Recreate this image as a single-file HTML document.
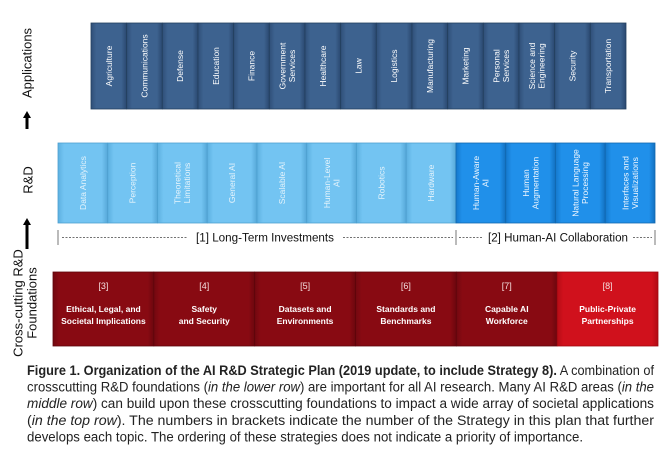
<!DOCTYPE html>
<html><head><meta charset="utf-8"><style>
html,body{margin:0;padding:0;background:#fff;width:668px;height:455px;overflow:hidden}
svg{display:block;font-family:"Liberation Sans",sans-serif}
</style></head><body>
<svg id="fig" width="668" height="455" viewBox="0 0 668 455">
<defs>
<linearGradient id="gApp" x1="0" y1="0" x2="1" y2="0"><stop offset="0" stop-color="#2f4f78"/><stop offset="0.15" stop-color="#3d628f"/><stop offset="0.85" stop-color="#3d628f"/><stop offset="1" stop-color="#2a4870"/></linearGradient>
<linearGradient id="gLight" x1="0" y1="0" x2="1" y2="0"><stop offset="0" stop-color="#5cb0e0"/><stop offset="0.12" stop-color="#73c4f2"/><stop offset="0.88" stop-color="#73c4f2"/><stop offset="1" stop-color="#56a8d8"/></linearGradient>
<linearGradient id="gDark" x1="0" y1="0" x2="1" y2="0"><stop offset="0" stop-color="#1478cc"/><stop offset="0.12" stop-color="#2090ea"/><stop offset="0.88" stop-color="#2090ea"/><stop offset="1" stop-color="#1270c0"/></linearGradient>
<linearGradient id="gRed" x1="0" y1="0" x2="1" y2="0"><stop offset="0" stop-color="#720810"/><stop offset="0.06" stop-color="#880a12"/><stop offset="0.94" stop-color="#880a12"/><stop offset="1" stop-color="#6c070e"/></linearGradient>
<linearGradient id="gRed2" x1="0" y1="0" x2="1" y2="0"><stop offset="0" stop-color="#b50c16"/><stop offset="0.06" stop-color="#d0111c"/><stop offset="0.94" stop-color="#d0111c"/><stop offset="1" stop-color="#b00a14"/></linearGradient>
</defs>
<g id="labels"></g>
<g id="apps"></g>
<g id="rd"></g>
<g id="found"></g>
<g id="caption"></g>
</svg>
<script>
const NS="http://www.w3.org/2000/svg";
const appNames=[["Agriculture"],["Communications"],["Defense"],["Education"],["Finance"],["Government","Services"],["Healthcare"],["Law"],["Logistics"],["Manufacturing"],["Marketing"],["Personal","Services"],["Science and","Engineering"],["Security"],["Transportation"]];
const rdNames=[["Data Analytics"],["Perception"],["Theoretical","Limitations"],["General AI"],["Scalable AI"],["Human-Level","AI"],["Robotics"],["Hardware"],["Human-Aware","AI"],["Human","Augmentation"],["Natural Language","Processing"],["Interfaces and","Visualizations"]];
const rdGroup=[1,1,1,1,1,1,1,1,2,2,2,2];
const foundNums=["[3]","[4]","[5]","[6]","[7]","[8]"];
const foundNames=[["Ethical, Legal, and","Societal Implications"],["Safety","and Security"],["Datasets and","Environments"],["Standards and","Benchmarks"],["Capable AI","Workforce"],["Public-Private","Partnerships"]];
function el(tag,attrs,parent){const e=document.createElementNS(NS,tag);for(const k in attrs)e.setAttribute(k,attrs[k]);parent.appendChild(e);return e;}
function vtext(parent,lines,cx,cy,size,fill,weight){
  const t=el("text",{x:cx,y:cy,"text-anchor":"middle","font-size":size,fill:fill,"font-weight":weight||"normal",transform:`rotate(-90 ${cx} ${cy})`},parent);
  const lh=size*1.1;const off=-(lines.length-1)*lh/2+size*0.35;
  lines.forEach((l,i)=>{const s=el("tspan",{x:cx,y:cy+off+i*lh},t);s.textContent=l;});
  return t;
}
const L=document.getElementById("labels");
let t=vtext(L,["Applications"],27,63,13,"#111");


t=vtext(L,["R&D"],28,180,13,"#111");


t=vtext(L,["Cross-cutting R&D","Foundations"],25,303,13,"#111");


[[27,129,111],[27,249,218]].forEach((a,i)=>{
  const g=el("g",{},L);
  
  
  el("line",{x1:a[0],y1:a[1],x2:a[0],y2:a[2]+6,stroke:"#000","stroke-width":3},g);
  el("polygon",{points:`${a[0]-4},${a[2]+7} ${a[0]+4},${a[2]+7} ${a[0]},${a[2]}`,fill:"#000"},g);
});
const A=document.getElementById("apps");
const ax0=91,ax1=626,ay0=23,ay1=109,aw=(ax1-ax0)/appNames.length;
appNames.forEach((n,i)=>{
  const g=el("g",{},A);
  
  
  const x=ax0+i*aw;
  el("rect",{x:x,y:ay0,width:aw,height:ay1-ay0,fill:"url(#gApp)",stroke:"#24405f","stroke-width":0.8},g);
  vtext(g,n,x+aw/2,(ay0+ay1)/2,8.5,"#fff");
});
const R=document.getElementById("rd");
const rx0=58,rx1=655,ry0=143,ry1=223,rw=(rx1-rx0)/rdNames.length;
rdNames.forEach((n,i)=>{
  const g=el("g",{},R);
  
  
  const x=rx0+i*rw;const dark=rdGroup[i]===2;
  el("rect",{x:x,y:ry0,width:rw,height:ry1-ry0,fill:dark?"url(#gDark)":"url(#gLight)",stroke:dark?"#1168b0":"#4ea0d0","stroke-width":0.8},g);
  vtext(g,n,x+rw/2,(ry0+ry1)/2,8.5,dark?"#f2f8ff":"#e6f4fc");
});
const split=rx0+8*rw;
const br=el("g",{},R);


[rx0,split,rx1].forEach(x=>el("line",{x1:x,y1:230,x2:x,y2:245,stroke:"#555","stroke-width":0.8},br));
[[rx0+4,187],[343,split-3],[split+3,483],[633,rx1-3]].forEach(s=>el("line",{x1:s[0],y1:237.5,x2:s[1],y2:237.5,stroke:"#444","stroke-width":0.8,"stroke-dasharray":"2,1.5"},br));
let gt=el("text",{x:265,y:241.5,"text-anchor":"middle","font-size":11.5,fill:"#111",textLength:138,lengthAdjust:"spacingAndGlyphs"},br);gt.textContent="[1] Long-Term Investments";


gt=el("text",{x:558,y:241.5,"text-anchor":"middle","font-size":11.5,fill:"#111",textLength:140,lengthAdjust:"spacingAndGlyphs"},br);gt.textContent="[2] Human-AI Collaboration";


const F=document.getElementById("found");
const fx0=53,fx1=658,fy0=272,fy1=346,fw=(fx1-fx0)/foundNames.length;
foundNames.forEach((n,i)=>{
  const g=el("g",{},F);
  
  
  const x=fx0+i*fw;const last=i===foundNames.length-1;
  el("rect",{x:x,y:fy0,width:fw,height:fy1-fy0,fill:last?"url(#gRed2)":"url(#gRed)",stroke:last?"#a00810":"#5e060b","stroke-width":0.8},g);
  const c=x+fw/2;
  const nt=el("text",{x:c,y:289,"text-anchor":"middle","font-size":9,fill:"#f4dede"},g);nt.textContent=foundNums[i];
  n.forEach((l,j)=>{const tt=el("text",{x:c,y:312+j*12,"text-anchor":"middle","font-size":8.5,"font-weight":"bold",fill:"#fff"},g);tt.textContent=l;});
});
const C=document.getElementById("caption");
const capLines=[
 [["Figure 1. Organization of the AI R&D Strategic Plan (2019 update, to include Strategy 8).","b"],[" A combination of",""]],
 [["crosscutting R&D foundations (",""],["in the lower row","i"],[") are important for all AI research. Many AI R&D areas (",""],["in the","i"]],
 [["middle row","i"],[") can build upon these crosscutting foundations to impact a wide array of societal applications",""]],
 [["(",""],["in the top row","i"],["). The numbers in brackets indicate the number of the Strategy in this plan that further",""]],
 [["develops each topic. The ordering of these strategies does not indicate a priority of importance.",""]]
];
const capW=[627,627,627,627,556];
capLines.forEach((ln,i)=>{
  const t=el("text",{x:27,y:375+i*16.6,"font-size":13.5,fill:"#222",textLength:capW[i],lengthAdjust:"spacingAndGlyphs"},C);
  ln.forEach(p=>{const s=el("tspan",{},t);if(p[1]==="b")s.setAttribute("font-weight","bold");if(p[1]==="i")s.setAttribute("font-style","italic");s.textContent=p[0];});
});
</script>
</body></html>
